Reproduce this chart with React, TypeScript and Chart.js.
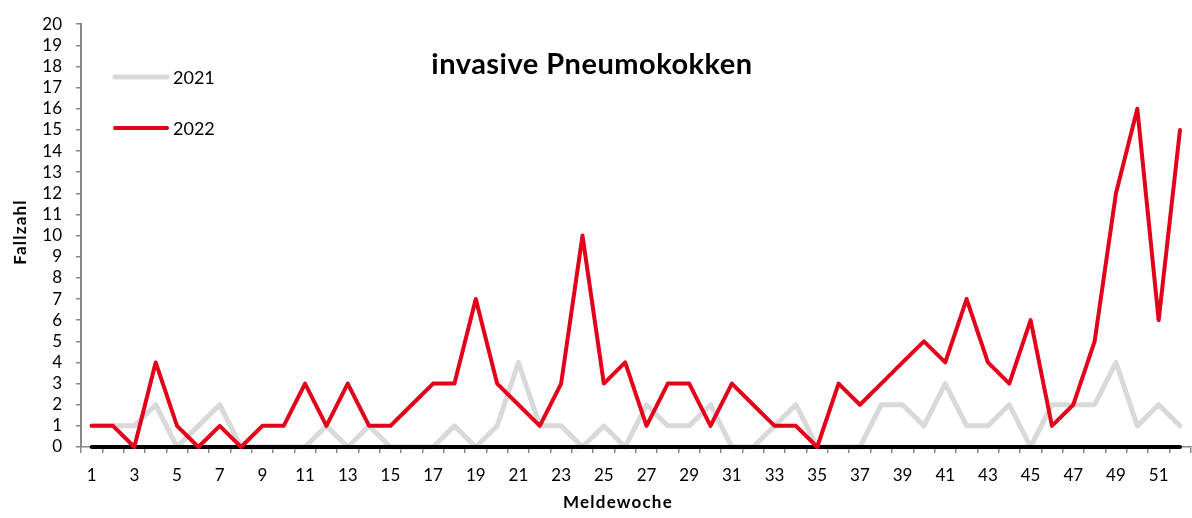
import React, { useEffect, useRef } from "react";
import { Chart, registerables } from "chart.js";

Chart.register(...registerables);

const weeks = [
  "1", "2", "3", "4", "5", "6", "7", "8", "9", "10", "11", "12", "13",
  "14", "15", "16", "17", "18", "19", "20", "21", "22", "23", "24", "25", "26",
  "27", "28", "29", "30", "31", "32", "33", "34", "35", "36", "37", "38", "39",
  "40", "41", "42", "43", "44", "45", "46", "47", "48", "49", "50", "51", "52",
];

const cases2021 = [
  1, 1, 1, 2, 0, 1, 2, 0, 0, 0, 0, 1, 0,
  1, 0, 0, 0, 1, 0, 1, 4, 1, 1, 0, 1, 0,
  2, 1, 1, 2, 0, 0, 1, 2, 0, 0, 0, 2, 2,
  1, 3, 1, 1, 2, 0, 2, 2, 2, 4, 1, 2, 1,
];

const cases2022 = [
  1, 1, 0, 4, 1, 0, 1, 0, 1, 1, 3, 1, 3,
  1, 1, 2, 3, 3, 7, 3, 2, 1, 3, 10, 3, 4,
  1, 3, 3, 1, 3, 2, 1, 1, 0, 3, 2, 3, 4,
  5, 4, 7, 4, 3, 6, 1, 2, 5, 12, 16, 6, 15,
];

const baseline = [
  0, 0, 0, 0, 0, 0, 0, 0, 0, 0, 0, 0, 0,
  0, 0, 0, 0, 0, 0, 0, 0, 0, 0, 0, 0, 0,
  0, 0, 0, 0, 0, 0, 0, 0, 0, 0, 0, 0, 0,
  0, 0, 0, 0, 0, 0, 0, 0, 0, 0, 0, 0, 0,
];

const seriesLabels = ["2021", "2022"];
const chartTitle = "invasive Pneumokokken";
const xTitle = "Meldewoche";
const yTitle = "Fallzahl";
const yMin = 0;
const yMax = 20;

const FONT = "Lato, 'Open Sans', sans-serif";
const RED = "#E2001A";
const GRAY = "#D9D9D9";
const AXIS = "#878787";

const overlayPlugin = {
  id: "overlay",
  afterDraw(chart: any) {
    const ctx = chart.ctx;
    ctx.save();
    ctx.fillStyle = "#000";
    ctx.textAlign = "center";
    ctx.textBaseline = "middle";
    // title
    ctx.font = `bold 29px ${FONT}`;
    ctx.letterSpacing = "0.5px";
    ctx.fillText(chartTitle, 592, 65);
    // x axis title
    ctx.font = `bold 17px ${FONT}`;
    ctx.letterSpacing = "1.2px";
    ctx.fillText(xTitle, 618, 503);
    // y axis title
    ctx.save();
    ctx.translate(21, 232);
    ctx.rotate(-Math.PI / 2);
    ctx.fillText(yTitle, 0, 0);
    ctx.restore();
    ctx.letterSpacing = "0px";
    // legend
    const items = [
      { ds: chart.data.datasets[2], y: 77 },
      { ds: chart.data.datasets[0], y: 128 },
    ];
    items.forEach((it) => {
      ctx.beginPath();
      ctx.strokeStyle = it.ds.borderColor;
      ctx.lineWidth = it.ds.borderWidth;
      ctx.lineCap = "round";
      ctx.moveTo(115, it.y);
      ctx.lineTo(167, it.y);
      ctx.stroke();
      ctx.fillStyle = "#000";
      ctx.textAlign = "left";
      ctx.textBaseline = "middle";
      ctx.font = `18px ${FONT}`;
      ctx.fillText(it.ds.label, 173, it.y + 1);
    });
    ctx.restore();
  },
};

export default function App() {
  const ref = useRef<HTMLCanvasElement | null>(null);

  useEffect(() => {
    document.body.style.margin = "0";
    if (!ref.current) return;
    const chart = new Chart(ref.current, {
      type: "line",
      data: {
        labels: weeks,
        datasets: [
          {
            label: seriesLabels[1],
            data: cases2022,
            borderColor: RED,
            backgroundColor: RED,
            borderWidth: 4,
            pointRadius: 0,
            borderJoinStyle: "round",
            borderCapStyle: "round",
            clip: false,
            order: 0,
          },
          {
            label: "baseline",
            data: baseline,
            borderColor: "#000",
            backgroundColor: "#000",
            borderWidth: 4,
            pointRadius: 0,
            borderCapStyle: "round",
            clip: false,
            order: 1,
          },
          {
            label: seriesLabels[0],
            data: cases2021,
            borderColor: GRAY,
            backgroundColor: GRAY,
            borderWidth: 5,
            pointRadius: 0,
            borderJoinStyle: "round",
            borderCapStyle: "round",
            clip: false,
            order: 2,
          },
        ],
      },
      options: {
        animation: false,
        responsive: false,
        events: [],
        layout: { padding: { top: 18, right: 0, bottom: 0, left: 0 } },
        plugins: {
          legend: { display: false },
          title: { display: false },
          tooltip: { enabled: false },
        },
        scales: {
          x: {
            type: "category",
            offset: true,
            grid: {
              offset: true,
              drawOnChartArea: false,
              drawTicks: true,
              tickLength: 6,
              color: AXIS,
              lineWidth: 1.5,
            },
            border: { color: AXIS, width: 1.5 },
            ticks: {
              autoSkip: false,
              maxRotation: 0,
              padding: 12,
              color: "#000",
              font: { family: FONT, size: 17 },
              callback: (_v: any, i: number) => (i % 2 === 0 ? weeks[i] : ""),
            },
            afterFit: (s: any) => {
              s.height = 71;
            },
          },
          y: {
            min: yMin,
            max: yMax,
            grid: {
              drawOnChartArea: false,
              drawTicks: true,
              tickLength: 5,
              color: AXIS,
              lineWidth: 1.5,
            },
            border: { color: AXIS, width: 2 },
            ticks: {
              stepSize: 1,
              autoSkip: false,
              padding: 14,
              color: "#000",
              font: { family: FONT, size: 17 },
            },
            afterFit: (s: any) => {
              s.width = 81;
            },
          },
        },
      },
      plugins: [overlayPlugin],
    } as any);
    return () => chart.destroy();
  }, []);

  return (
    <div style={{ width: 1192, height: 518, background: "#fff" }}>
      <canvas ref={ref} width={1192} height={518} />
    </div>
  );
}
